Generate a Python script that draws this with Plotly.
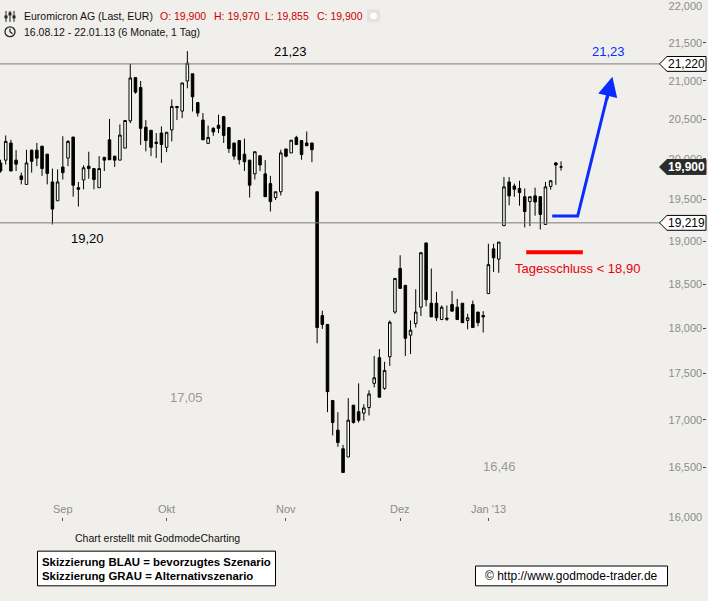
import numpy as np
import pandas as pd
import plotly.graph_objects as go

# ---------------- data ----------------
holidays = ["2012-12-24", "2012-12-25", "2012-12-26", "2012-12-31", "2013-01-01"]
trading_days = [d for d in pd.bdate_range("2012-08-16", "2013-01-22")
                if d.strftime("%Y-%m-%d") not in holidays]
dates = [d.strftime("%d.%m.%Y") for d in trading_days]

opens = [19950, 19985, 20200, 19985, 19790, 19685, 20110, 20110, 20160, 20060,
         19715, 19485, 19900, 20010, 20275, 19645, 19740, 19910, 19880, 19645,
         20020, 20240, 20035, 19985, 20135, 20480, 21040, 20910, 20400, 20360,
         20210, 20325, 20145, 20365, 20665, 20605, 20995, 21090, 20715, 20490,
         20195, 20385, 20425, 20535, 20395, 20200, 20230, 20060, 19985, 19815,
         20040, 19815, 19695, 19525, 19595, 20125, 20075, 20270, 20230, 20200,
         20200, 19595, 18140, 18040, 17205, 16890, 16695, 16610, 17155, 17085,
         17070, 17130, 17390, 17670, 17335, 17680, 18180, 18680, 18485, 17920,
         18050, 18235, 18980, 18280, 18280, 18095, 18110, 18265, 18235, 18280,
         18085, 18265, 18180, 18140, 18390, 18910, 18790, 19185, 19715, 19665,
         19635, 19535, 19475, 19545, 19535, 19200, 19660, 19950, 19900]
highs = [19990, 20295, 20240, 20110, 19830, 20115, 20115, 20200, 20160, 20060,
         19880, 19870, 20285, 20235, 20275, 19715, 19920, 20090, 19880, 20035,
         20020, 20505, 20035, 20435, 20485, 21220, 21040, 20995, 20490, 20360,
         20325, 20410, 20335, 20755, 20670, 20970, 21390, 21090, 20715, 20580,
         20420, 20400, 20560, 20535, 20395, 20200, 20230, 20255, 19985, 20090,
         20040, 19985, 19790, 19595, 20115, 20125, 20235, 20290, 20230, 20345,
         20200, 19595, 18195, 18040, 17205, 17080, 16735, 17230, 17155, 17390,
         17165, 17315, 17690, 17765, 17625, 18085, 18565, 18835, 18485, 18085,
         18440, 18870, 18980, 18680, 18410, 18255, 18255, 18420, 18330, 18280,
         18160, 18310, 18180, 18190, 18970, 18970, 18990, 19775, 19775, 19695,
         19730, 19635, 19535, 19645, 19535, 19715, 19740, 19960, 19970]
lows = [19830, 19930, 19850, 19850, 19685, 19685, 19830, 19910, 19790, 19685,
        19200, 19485, 19745, 19910, 19535, 19415, 19625, 19755, 19625, 19645,
        19850, 19990, 19900, 19985, 20135, 20450, 20830, 20175, 20095, 20035,
        20010, 19950, 20085, 20220, 20490, 20515, 20900, 20600, 20535, 20240,
        20195, 20290, 20325, 20200, 20075, 19990, 19930, 19850, 19525, 19745,
        19850, 19535, 19355, 19495, 19550, 20020, 20075, 20180, 19990, 20165,
        19960, 17830, 17990, 17080, 16835, 16715, 16450, 16610, 16960, 16970,
        16990, 17045, 17345, 17240, 17320, 17580, 18160, 18450, 17690, 17710,
        18005, 18135, 18245, 18125, 18080, 18095, 18080, 18190, 18095, 18060,
        17985, 18005, 18020, 17950, 18390, 18640, 18630, 19185, 19430, 19535,
        19425, 19165, 19180, 19305, 19140, 19200, 19620, 19680, 19855]
closes = [19850, 20220, 19850, 19935, 19745, 19950, 19970, 20010, 19880, 19820,
          19385, 19715, 19830, 20220, 19675, 19625, 19890, 19880, 19745, 19880,
          19985, 19990, 19985, 20300, 20485, 21035, 20850, 20385, 20230, 20145,
          20195, 20180, 20335, 20665, 20650, 20970, 21230, 20790, 20580, 20240,
          20270, 20340, 20385, 20295, 20130, 20035, 19990, 19965, 19675, 20090,
          19925, 19535, 19475, 19595, 20075, 20035, 20235, 20180, 20055, 20165,
          20115, 18005, 18040, 17300, 16970, 16760, 16450, 16995, 16970, 16995,
          17125, 17275, 17450, 17240, 17530, 18065, 18565, 18450, 17885, 17975,
          18180, 18865, 18320, 18125, 18115, 18235, 18100, 18190, 18095, 18060,
          18115, 18005, 18060, 18125, 18725, 18805, 18990, 19655, 19545, 19625,
          19585, 19355, 19535, 19470, 19320, 19655, 19730, 19925, 19900]

month_names = ["Sep", "Okt", "Nov", "Dez", "Jan '13"]
ytick_vals = [16000, 16500, 17000, 17500, 18000, 18500, 19000, 19500,
              20000, 20500, 21000, 21500, 22000]
ytick_text = ["16,000", "16,500", "17,000", "17,500", "18,000", "18,500", "19,000",
              "19,500", "20,000", "20,500", "21,000", "21,500", "22,000"]

level_resistance = 21220
level_support = 19219
last_price = 19900

blue_path_x = [106.3, 111.2, 117.4]
blue_path_y = [19300, 19300, 20930]
blue_tip = (117.9, 21050)
red_x = [101.3, 112.2]
red_y = [18870, 18870]

# ---------------- style / geometry ----------------
BG = "#f0efeb"
FONT = "Liberation Sans, Arial, sans-serif"
NARROW = "Liberation Sans Narrow, Arial Narrow, Liberation Sans, sans-serif"
BLUE = "#0a2cff"
RED = "#ff0000"
W, H = 708, 601
ML, MR, MT, MB = 0, 2, 1, 84
PW = W - ML - MR
PH = H - MT - MB
BAR_PX = 5.19
LO, HI = np.log10(16000), np.log10(22000)

idx = list(range(len(dates)))
month_idx = []
prev = None
for i, d in enumerate(trading_days):
    if prev is not None and d.month != prev:
        month_idx.append(i)
    prev = d.month


def pxp(px):
    return (px - ML) / PW


def pyp(py):
    return (MT + PH - py) / PH


def price_p(p):
    return (np.log10(p) - LO) / (HI - LO)


fig = go.Figure()

fig.add_trace(go.Candlestick(
    x=idx, open=opens, high=highs, low=lows, close=closes,
    increasing=dict(line=dict(color="#000000", width=1), fillcolor="#ffffff"),
    decreasing=dict(line=dict(color="#000000", width=1), fillcolor="#000000"),
    whiskerwidth=0, hoverinfo="skip", showlegend=False))

x_line_end = (662 - ML) / BAR_PX
for lvl in (level_resistance, level_support):
    fig.add_trace(go.Scatter(x=[-2, x_line_end], y=[lvl, lvl], mode="lines",
                             line=dict(color="#7a7a7a", width=1),
                             hoverinfo="skip", showlegend=False))

fig.add_trace(go.Scatter(x=blue_path_x, y=blue_path_y, mode="lines",
                         line=dict(color=BLUE, width=3), hoverinfo="skip",
                         showlegend=False))
fig.add_trace(go.Scatter(x=red_x, y=red_y, mode="lines",
                         line=dict(color=RED, width=4), hoverinfo="skip",
                         showlegend=False))

shapes = []
annotations = []

# arrow head for blue scenario
annotations.append(dict(x=blue_tip[0], y=np.log10(blue_tip[1]), xref="x", yref="y",
                        showarrow=True, ax=-6, ay=24, text="", arrowhead=2,
                        arrowsize=1.3, arrowwidth=3, arrowcolor=BLUE))

# price boxes on right axis
hh = 7.5 / PH
for p, fill, txtcol, bold in [(level_resistance, "#ffffff", "#000000", False),
                              (last_price, "#2b2b2b", "#ffffff", True),
                              (level_support, "#ffffff", "#000000", False)]:
    yc = price_p(p)
    path = (f"M {pxp(659.5)},{yc} L {pxp(667)},{yc + hh} L {pxp(706)},{yc + hh} "
            f"L {pxp(706)},{yc - hh} L {pxp(667)},{yc - hh} Z")
    shapes.append(dict(type="path", xref="paper", yref="paper", path=path,
                       fillcolor=fill, line=dict(color="#000000" if fill == "#ffffff" else fill, width=1)))
    t = f"<b>{p:,}</b>" if bold else f"{p:,}"
    annotations.append(dict(x=pxp(686.5), y=yc, xref="paper", yref="paper",
                            text=t, showarrow=False, xanchor="center", yanchor="middle",
                            font=dict(family=FONT, size=12, color=txtcol)))

# chart texts
for txt, px, py, col, size in [("21,23", 290, 47, "#000000", 13),
                               ("19,20", 87.5, 236, "#000000", 13),
                               ("17,05", 186, 396, "#9a9a9a", 13),
                               ("16,46", 499, 466, "#9a9a9a", 13),
                               ("21,23", 608, 47, BLUE, 13),
                               ("Tagesschluss < 18,90", 577, 266, "#e8000b", 13)]:
    annotations.append(dict(x=pxp(px), y=pyp(py), xref="paper", yref="paper", text=txt,
                            showarrow=False, xanchor="center", yanchor="middle",
                            font=dict(family=FONT, size=size, color=col)))

# month labels
for k, mi in enumerate(month_idx):
    annotations.append(dict(x=mi, y=pyp(509), xref="x", yref="paper", text=month_names[k],
                            showarrow=False, xanchor="center", yanchor="middle",
                            font=dict(family=NARROW, size=11, color="#8c8c8c")))

# header
annotations.append(dict(x=pxp(21.5), y=pyp(11), xref="paper", yref="paper",
                        text="Euromicron AG (Last, EUR)", showarrow=False,
                        xanchor="left", yanchor="middle",
                        font=dict(family=FONT, size=10.5, color="#111111")))
for txt, px in [("O: 19,900", 158), ("H: 19,970", 212), ("L: 19,855", 263), ("C: 19,900", 315)]:
    annotations.append(dict(x=pxp(px), y=pyp(11), xref="paper", yref="paper",
                            text=txt, showarrow=False, xanchor="left", yanchor="middle",
                            font=dict(family=FONT, size=10.5, color="#cc0000")))
annotations.append(dict(x=pxp(21.5), y=pyp(27), xref="paper", yref="paper",
                        text="16.08.12 - 22.01.13 (6 Monate, 1 Tag)", showarrow=False,
                        xanchor="left", yanchor="middle",
                        font=dict(family=FONT, size=10.5, color="#111111")))

# header icons
for cx, top, knob in [(6, 6, 12), (10, 6, 9), (14, 6, 12)]:
    shapes.append(dict(type="line", xref="paper", yref="paper", x0=pxp(cx), x1=pxp(cx),
                       y0=pyp(6), y1=pyp(17), line=dict(color="#222222", width=1)))
    shapes.append(dict(type="rect", xref="paper", yref="paper", x0=pxp(cx - 1.5), x1=pxp(cx + 1.5),
                       y0=pyp(knob + 1.5), y1=pyp(knob - 1.5), fillcolor="#222222",
                       line=dict(width=0)))
shapes.append(dict(type="circle", xref="paper", yref="paper", x0=pxp(5), x1=pxp(15),
                   y0=pyp(32), y1=pyp(22), line=dict(color="#222222", width=1.3)))
shapes.append(dict(type="path", xref="paper", yref="paper",
                   path=f"M {pxp(10)},{pyp(24)} L {pxp(10)},{pyp(27)} L {pxp(12.5)},{pyp(29)}",
                   line=dict(color="#222222", width=1.2)))
shapes.append(dict(type="rect", xref="paper", yref="paper", x0=pxp(367), x1=pxp(380),
                   y0=pyp(17.5), y1=pyp(4.5), fillcolor="#e4e3df", line=dict(width=0)))
shapes.append(dict(type="circle", xref="paper", yref="paper", x0=pxp(370.5), x1=pxp(376.5),
                   y0=pyp(14), y1=pyp(8), fillcolor="#ffffff", line=dict(color="#ffffff", width=1)))

# footer
annotations.append(dict(x=pxp(157), y=pyp(538), xref="paper", yref="paper",
                        text="Chart erstellt mit GodmodeCharting", showarrow=False,
                        xanchor="center", yanchor="middle",
                        font=dict(family=NARROW, size=10.5, color="#111111")))
shapes.append(dict(type="rect", xref="paper", yref="paper", x0=pxp(37.5), x1=pxp(275.5),
                   y0=pyp(586.5), y1=pyp(551.5), fillcolor="#ffffff",
                   line=dict(color="#000000", width=1)))
annotations.append(dict(x=pxp(40), y=pyp(562.5), xref="paper", yref="paper",
                        text="<b>Skizzierung BLAU = bevorzugtes Szenario</b>", showarrow=False,
                        xanchor="left", yanchor="middle",
                        font=dict(family=NARROW, size=11.4, color="#000000")))
annotations.append(dict(x=pxp(40), y=pyp(577), xref="paper", yref="paper",
                        text="<b>Skizzierung GRAU = Alternativszenario</b>", showarrow=False,
                        xanchor="left", yanchor="middle",
                        font=dict(family=NARROW, size=11.4, color="#000000")))
shapes.append(dict(type="rect", xref="paper", yref="paper", x0=pxp(475.5), x1=pxp(667.5),
                   y0=pyp(586.5), y1=pyp(566.5), fillcolor="#ffffff",
                   line=dict(color="#000000", width=1)))
annotations.append(dict(x=pxp(571), y=pyp(576.5), xref="paper", yref="paper",
                        text="© http://www.godmode-trader.de", showarrow=False,
                        xanchor="center", yanchor="middle",
                        font=dict(family=NARROW, size=12, color="#000000")))

fig.update_layout(
    width=W, height=H,
    margin=dict(l=ML, r=MR, t=MT, b=MB),
    paper_bgcolor=BG, plot_bgcolor=BG,
    showlegend=False,
    boxgap=0.3,
    shapes=shapes,
    annotations=annotations,
    xaxis=dict(range=[-0.1, PW / BAR_PX - 0.1], showgrid=False, zeroline=False,
               showline=False, ticks="outside", ticklen=3, tickcolor="#555555",
               tickvals=month_idx, ticktext=[""] * len(month_idx),
               showticklabels=False, rangeslider=dict(visible=False), fixedrange=True),
    yaxis=dict(type="log", range=[LO, HI], side="right", showgrid=False,
               zeroline=False, showline=False, ticks="inside", ticklen=3,
               tickcolor="#444444", tickvals=ytick_vals, ticktext=ytick_text,
               ticklabelposition="inside", ticklabeloverflow="allow",
               tickfont=dict(family=FONT, size=11, color="#8c8c8c"), fixedrange=True),
)

fig.write_html("out.html", config={"displayModeBar": False},
               post_script="document.body.style.margin='0px';document.body.style.padding='0px';")
